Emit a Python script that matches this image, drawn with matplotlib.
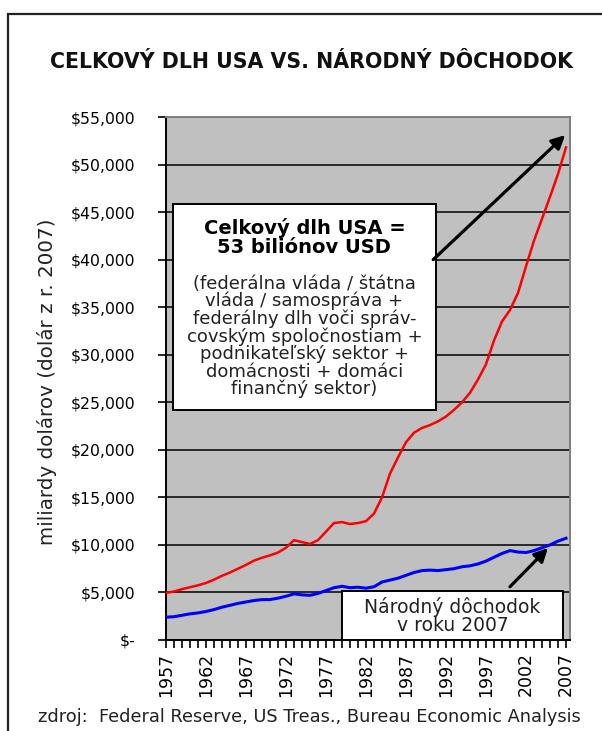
import numpy as np
import matplotlib.pyplot as plt
from matplotlib.patches import Rectangle
from matplotlib.ticker import FuncFormatter, MultipleLocator

plt.rcParams['font.family'] = ['DejaVu Sans']

roky = np.arange(1957, 2008)

# celkovy dlh USA, miliardy USD (dolar z r. 2007)
dlh = [4950, 5100, 5350, 5550, 5750, 6000, 6350, 6750, 7100, 7500,
       7900, 8350, 8650, 8900, 9200, 9700, 10500, 10300, 10100, 10500,
       11400, 12300, 12400, 12200, 12300, 12500, 13300, 15000, 17500, 19200,
       20800, 21800, 22300, 22600, 23000, 23500, 24200, 25000, 26000, 27400,
       29000, 31500, 33500, 34700, 36500, 39300, 42000, 44300, 46600, 49000,
       51800]

# narodny dochodok
dochodok = [2400, 2450, 2600, 2750, 2850, 3000, 3200, 3450, 3650, 3850,
            4000, 4150, 4250, 4250, 4400, 4600, 4850, 4750, 4700, 4900,
            5200, 5500, 5650, 5500, 5550, 5450, 5600, 6100, 6300, 6500,
            6800, 7100, 7300, 7350, 7300, 7400, 7500, 7700, 7800, 8000,
            8300, 8700, 9100, 9400, 9250, 9200, 9400, 9700, 10000, 10400,
            10700]

popisky_x = [1957, 1962, 1967, 1972, 1977, 1982, 1987, 1992, 1997, 2002, 2007]

fig = plt.figure(figsize=(6.02, 7.31), dpi=100)
fig.add_artist(Rectangle((8 / 602, -0.05), 1.0, 1.05 - 14 / 731,
                         transform=fig.transFigure, fill=False,
                         ec='#222222', lw=1.6))

ax = fig.add_axes([166 / 602, 1 - 640 / 731, 404 / 602, 523 / 731])
ax.set_facecolor('#C0C0C0')
ax.set_axisbelow(True)
ax.grid(axis='y', color='black', lw=1.1)

ax.plot(roky, dlh, color='#FF0000', lw=1.8, zorder=3)
ax.plot(roky, dochodok, color='#0000FF', lw=2.2, zorder=3)

ax.set_xlim(1957, 2007.5)
ax.set_ylim(0, 55000)
ax.yaxis.set_major_locator(MultipleLocator(5000))
ax.yaxis.set_major_formatter(FuncFormatter(lambda v, p: '$-' if v == 0 else '${:,.0f}'.format(v)))
ax.set_xticks(popisky_x)
ax.set_xticklabels([str(r) for r in popisky_x], rotation=90, fontsize=12.5)
ax.xaxis.set_minor_locator(MultipleLocator(1))
ax.tick_params(axis='x', which='both', direction='out', length=6, width=1.2, pad=3)
ax.tick_params(axis='y', direction='out', length=6, width=1.2, pad=16, labelsize=11.3)

for s in ['left', 'bottom']:
    ax.spines[s].set_color('black')
    ax.spines[s].set_linewidth(1.4)
for s in ['top', 'right']:
    ax.spines[s].set_color('#808080')
    ax.spines[s].set_linewidth(1.4)

# textove pole - celkovy dlh
ax.add_patch(Rectangle((1957.9, 24190), 32.85, 21660, fc='white', ec='black', lw=1.4, zorder=5))
ax.text(1974.3, 42380, 'Celkový dlh USA =\n53 biliónov USD',
        ha='center', va='center', fontsize=14, fontweight='bold', linespacing=1.0, zorder=6)
ax.text(1974.3, 31920,
        '(federálna vláda / štátna\nvláda / samospráva +\nfederálny dlh voči správ-\n'
        'covským spoločnostiam +\npodnikateľský sektor +\ndomácnosti + domáci\nfinančný sektor)',
        ha='center', va='center', fontsize=13, color='#222222', linespacing=0.95, zorder=6)

# textove pole - narodny dochodok
ax.add_patch(Rectangle((1979.0, 0), 27.6, 5150, fc='white', ec='black', lw=1.4, zorder=5))
ax.text(1992.8, 2520, 'Národný dôchodok\nv roku 2007', ha='center', va='center',
        fontsize=13.5, color='#222222', linespacing=0.95, zorder=6)

ax.annotate('', xy=(2006.9, 53100), xytext=(1990.4, 40000),
            arrowprops=dict(arrowstyle='-|>', color='black', lw=2.3, mutation_scale=20,
                            shrinkA=0, shrinkB=0), zorder=7)
ax.annotate('', xy=(2004.75, 9675), xytext=(2000.0, 5600),
            arrowprops=dict(arrowstyle='-|>', color='black', lw=2.3, mutation_scale=20,
                            shrinkA=0, shrinkB=0), zorder=7)

fig.text(312 / 602, 1 - 62.5 / 731, 'CELKOVÝ DLH USA VS. NÁRODNÝ DÔCHODOK',
         ha='center', va='center', fontsize=14.8, fontweight='bold', color='#111111')
fig.text(47 / 602, 1 - 382 / 731, 'miliardy dolárov (dolár z r. 2007)',
         rotation=90, ha='center', va='center', fontsize=14.3, color='#222222')
fig.text(38 / 602, 1 - 717 / 731, 'zdroj:  Federal Reserve, US Treas., Bureau Economic Analysis',
         ha='left', va='center', fontsize=12.8, color='#222222')

plt.savefig('out.png', dpi=100)
